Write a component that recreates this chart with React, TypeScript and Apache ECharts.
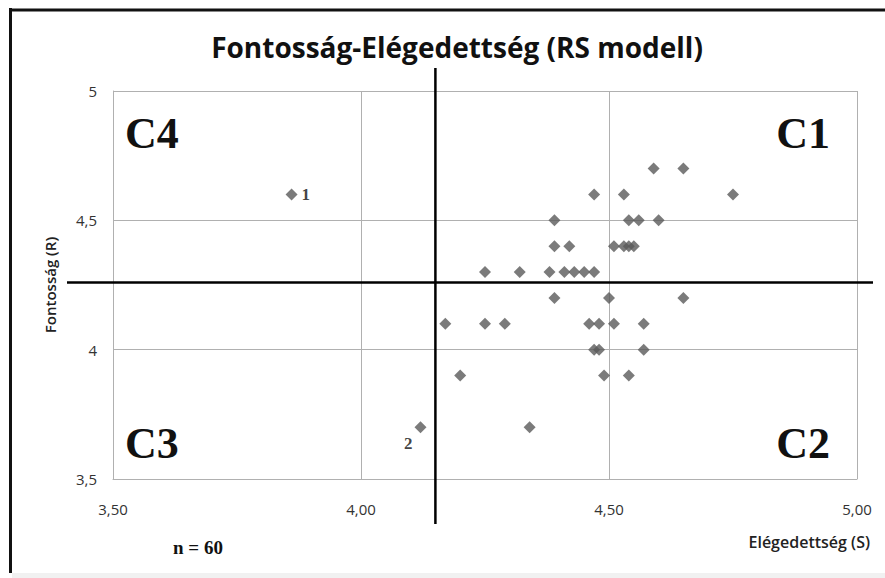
import React, { useEffect, useRef } from "react";
import * as echarts from "echarts";

const titleText = "Fontosság-Elégedettség (RS modell)";
const xAxisName = "Elégedettség (S)";
const yAxisName = "Fontosság (R)";
const sampleNote = "n = 60";

// Satisfaction (S) and importance (R) of each visible point
const satisfaction = [
  4.59, 4.65,
  4.47, 4.53, 4.75,
  4.39, 4.54, 4.56, 4.6,
  4.39, 4.42, 4.51, 4.53, 4.54, 4.55,
  4.25, 4.32, 4.38, 4.41, 4.43, 4.45, 4.47,
  4.39, 4.5, 4.65,
  4.17, 4.25, 4.29, 4.46, 4.48, 4.51, 4.57,
  4.47, 4.48, 4.57,
  4.2, 4.49, 4.54,
  4.12, 4.34,
  3.86,
];
const importance = [
  4.7, 4.7,
  4.6, 4.6, 4.6,
  4.5, 4.5, 4.5, 4.5,
  4.4, 4.4, 4.4, 4.4, 4.4, 4.4,
  4.3, 4.3, 4.3, 4.3, 4.3, 4.3, 4.3,
  4.2, 4.2, 4.2,
  4.1, 4.1, 4.1, 4.1, 4.1, 4.1, 4.1,
  4.0, 4.0, 4.0,
  3.9, 3.9, 3.9,
  3.7, 3.7,
  4.6,
];
// point index -> tag shown next to it
const pointTags: Record<number, string> = { 40: "1", 38: "2" };

const meanS = 4.15;
const meanR = 4.26;

const xTicks = [3.5, 4.0, 4.5, 5.0];
const yTicks = [3.5, 4.0, 4.5, 5.0];
const quadrantNames = ["C1", "C2", "C3", "C4"];

export default function App() {
  const ref = useRef<HTMLDivElement>(null);

  useEffect(() => {
    document.body.style.margin = "0";
    if (!ref.current) return;
    const chart = echarts.init(ref.current, null, { renderer: "svg" });

    const grid = { left: 113, top: 91, width: 744, height: 388 };

    const data = satisfaction.map((s, i) => {
      const tag = pointTags[i];
      const item: any = { value: [s, importance[i]] };
      if (tag) {
        item.label = {
          show: true,
          formatter: tag,
          position: tag === "1" ? "right" : "left",
          offset: tag === "1" ? [0, 0] : [2, 16],
          distance: 4,
          fontFamily: "Liberation Serif, Times New Roman, serif",
          fontWeight: "bold",
          fontSize: 17,
          color: "#111",
        };
      }
      return item;
    });

    const option: any = {
      animation: false,
      backgroundColor: "#ffffff",
      title: {
        text: titleText,
        left: 452,
        textAlign: "center",
        top: 28,
        textStyle: {
          fontFamily: "Open Sans",
          fontWeight: 700,
          fontSize: 28,
          color: "#111",
        },
      },
      grid: { ...grid, containLabel: false },
      xAxis: {
        type: "value",
        min: xTicks[0],
        max: xTicks[xTicks.length - 1],
        interval: 0.5,
        axisLine: { show: true, lineStyle: { color: "#b0b0b0", width: 1 } },
        axisTick: { show: false },
        splitLine: { show: true, lineStyle: { color: "#b0b0b0", width: 1 } },
        axisLabel: {
          margin: 22,
          fontFamily: "Open Sans",
          fontSize: 15,
          color: "#333",
          formatter: (v: number) => v.toFixed(2).replace(".", ","),
        },
      },
      yAxis: {
        type: "value",
        min: yTicks[0],
        max: yTicks[yTicks.length - 1],
        interval: 0.5,
        axisLine: { show: true, lineStyle: { color: "#b0b0b0", width: 1 } },
        axisTick: { show: false },
        splitLine: { show: true, lineStyle: { color: "#b0b0b0", width: 1 } },
        axisLabel: {
          margin: 16,
          fontFamily: "Open Sans",
          fontSize: 15,
          color: "#333",
          formatter: (v: number) => String(v).replace(".", ","),
        },
      },
      series: [
        {
          type: "scatter",
          symbol: "diamond",
          symbolSize: 12,
          itemStyle: { color: "#5a5a5a" },
          data,
        },
      ],
    };

    chart.setOption(option);

    const p = chart.convertToPixel({ gridIndex: 0 }, [meanS, meanR]) as number[];
    const gx0 = grid.left;
    const gx1 = grid.left + grid.width;
    const gy0 = grid.top;
    const gy1 = grid.top + grid.height;

    const cFont = {
      fontFamily: "Liberation Serif, Times New Roman, serif",
      fontWeight: "bold",
      fontSize: 44,
      fill: "#111",
    };

    chart.setOption({
      graphic: [
        // outer frame
        { type: "line", shape: { x1: 10.5, y1: 8, x2: 10.5, y2: 573 }, style: { stroke: "#111", lineWidth: 3 } },
        { type: "line", shape: { x1: 9, y1: 10, x2: 885, y2: 10 }, style: { stroke: "#111", lineWidth: 3 } },
        { type: "rect", shape: { x: 12, y: 573, width: 873, height: 5 }, style: { fill: "#f1f1f1" } },
        // mean lines
        {
          type: "line",
          shape: { x1: p[0], y1: gy0 - 23, x2: p[0], y2: gy1 + 45 },
          style: { stroke: "#000", lineWidth: 2.5 },
          z: 10,
        },
        {
          type: "line",
          shape: { x1: gx0 - 46, y1: p[1], x2: gx1 + 16, y2: p[1] },
          style: { stroke: "#000", lineWidth: 2.5 },
          z: 10,
        },
        // quadrant names
        { type: "text", x: gx1 - 27, y: gy0 + 42, style: { ...cFont, text: quadrantNames[0], align: "right", verticalAlign: "middle" } },
        { type: "text", x: gx1 - 27, y: gy1 - 36, style: { ...cFont, text: quadrantNames[1], align: "right", verticalAlign: "middle" } },
        { type: "text", x: gx0 + 12, y: gy1 - 36, style: { ...cFont, text: quadrantNames[2], align: "left", verticalAlign: "middle" } },
        { type: "text", x: gx0 + 12, y: gy0 + 42, style: { ...cFont, text: quadrantNames[3], align: "left", verticalAlign: "middle" } },
        // axis names
        {
          type: "text",
          x: 50,
          y: 285,
          rotation: Math.PI / 2,
          style: {
            text: yAxisName,
            align: "center",
            verticalAlign: "middle",
            fontFamily: "Open Sans",
            fontWeight: 600,
            fontSize: 15,
            fill: "#222",
          },
        },
        {
          type: "text",
          x: 870,
          y: 542,
          style: {
            text: xAxisName,
            align: "right",
            verticalAlign: "middle",
            fontFamily: "Open Sans",
            fontWeight: 600,
            fontSize: 16,
            fill: "#222",
          },
        },
        {
          type: "text",
          x: 173,
          y: 547,
          style: {
            text: sampleNote,
            align: "left",
            verticalAlign: "middle",
            fontFamily: "Liberation Serif, Times New Roman, serif",
            fontWeight: "bold",
            fontSize: 19,
            fill: "#111",
          },
        },
      ],
    });

    return () => chart.dispose();
  }, []);

  return <div ref={ref} style={{ width: 885, height: 578 }} />;
}
